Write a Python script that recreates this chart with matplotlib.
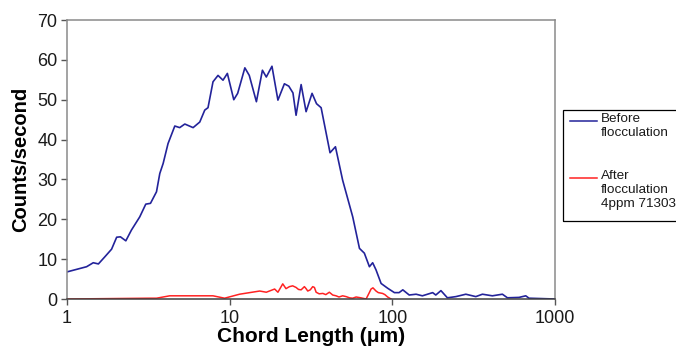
import matplotlib.pyplot as plt
from matplotlib.lines import Line2D
from matplotlib.patches import Rectangle

plt.rcParams['font.family'] = ['Liberation Sans', 'DejaVu Sans']

# Chord length distribution before flocculation
before_um = [1.0, 1.32, 1.45, 1.56, 1.71, 1.88, 2.02, 2.13, 2.30, 2.49, 2.80, 3.05,
             3.26, 3.55, 3.72, 3.90, 4.18, 4.60, 4.93, 5.30, 5.96, 6.55, 7.03, 7.36,
             7.90, 8.48, 9.10, 9.68, 10.6, 11.2, 12.4, 13.2, 14.6, 15.9, 16.8, 18.2,
             19.8, 21.7, 23.1, 24.5, 25.6, 27.5, 29.5, 32.1, 34.2, 36.5, 41.4, 44.7,
             49.5, 57.1, 62.8, 67.3, 72.3, 75.7, 79.4, 85.3, 93.6, 103, 110, 116,
             127, 140, 153, 177, 185, 199, 218, 246, 283, 326, 358, 412, 475, 510,
             601, 661, 692, 1000]
before_cps = [6.8, 8.1, 9.1, 8.8, 10.6, 12.5, 15.5, 15.6, 14.6, 17.3, 20.6, 23.8,
              24.0, 26.9, 31.5, 34.0, 39.0, 43.4, 43.0, 43.9, 43.0, 44.4, 47.4, 48.0,
              54.5, 56.1, 54.9, 56.6, 50.0, 51.6, 58.0, 56.1, 49.5, 57.4, 55.7, 58.4,
              49.9, 54.0, 53.4, 51.7, 46.1, 53.8, 47.0, 51.6, 49.0, 48.0, 36.7, 38.2,
              29.8, 20.6, 12.7, 11.5, 8.1, 9.1, 7.3, 3.9, 2.7, 1.6, 1.6, 2.3,
              1.0, 1.2, 0.8, 1.6, 1.0, 2.1, 0.3, 0.6, 1.2, 0.6, 1.2, 0.8, 1.2, 0.3,
              0.4, 0.8, 0.2, 0.0]

# After flocculation, 4 ppm 71303
after_um = [1.0, 3.23, 3.55, 4.28, 7.90, 9.31, 11.5, 15.3, 16.8, 18.9, 19.8, 21.2,
            22.2, 23.3, 24.4, 25.6, 26.5, 27.5, 28.8, 29.5, 30.2, 31.3, 32.4, 33.2,
            34.0, 35.5, 37.4, 39.0, 41.0, 43.0, 45.1, 47.0, 49.5, 52.0, 54.5, 57.0,
            59.9, 64.0, 69.0, 72.0, 74.0, 76.0, 79.4, 82.0, 87.1, 90.0, 93.6, 98.2]
after_cps = [0.0, 0.2, 0.2, 0.8, 0.8, 0.2, 1.2, 2.0, 1.7, 2.5, 1.7, 3.8,
             2.6, 3.1, 3.3, 2.9, 2.4, 2.3, 3.1, 2.6, 2.0, 2.3, 3.1, 2.9,
             1.7, 1.3, 1.4, 1.1, 1.7, 1.0, 0.8, 0.5, 0.8, 0.6, 0.3, 0.2,
             0.5, 0.3, 0.0, 1.5, 2.5, 2.8, 2.0, 1.6, 1.4, 1.1, 0.5, 0.0]

blue = '#23239a'
red = '#ff2222'

fig = plt.figure(figsize=(6.76, 3.48), dpi=100)
ax = fig.add_axes([0.0991, 0.1408, 0.7219, 0.8017])

ax.plot(before_um, before_cps, color=blue, lw=1.2, solid_joinstyle='round')
ax.plot(after_um, after_cps, color=red, lw=1.1)

ax.set_xscale('log')
ax.set_xlim(1, 1000)
ax.set_ylim(0, 70)
ax.set_xticks([1, 10, 100, 1000])
ax.set_xticklabels(['1', '10', '100', '1000'])
ax.minorticks_off()
ax.set_yticks(range(0, 71, 10))

for side in ['top', 'right', 'left']:
    ax.spines[side].set_color('#8a8a8a')
    ax.spines[side].set_linewidth(1.1)
ax.spines['bottom'].set_color('#404040')
ax.spines['bottom'].set_linewidth(1.1)
ax.tick_params(axis='both', labelsize=13, colors='#555555', labelcolor='#1a1a1a',
               length=4, width=1)
ax.tick_params(axis='y', pad=3)
ax.tick_params(axis='x', pad=4)

ax.set_ylabel('Counts/second', fontsize=14.5, fontweight='bold', labelpad=5)
ax.set_xlabel('Chord Length (μm)', fontsize=15, fontweight='bold', labelpad=0)

# Legend box, drawn in figure pixels (right side runs past the edge)
W, H = 676.0, 348.0
def fx(px):
    return px / W
def fy(py):
    return 1 - py / H

fig.patches.append(Rectangle((fx(563), fy(221)), fx(680) - fx(563), fy(110) - fy(221),
                             transform=fig.transFigure, fill=False, edgecolor='black',
                             lw=0.9))
fig.lines.append(Line2D([fx(570), fx(597)], [fy(121), fy(121)], color=blue, lw=1.1,
                        transform=fig.transFigure))
fig.lines.append(Line2D([fx(570), fx(597)], [fy(178), fy(178)], color=red, lw=1.1,
                        transform=fig.transFigure))
fig.text(fx(601), fy(113), 'Before\nflocculation', fontsize=9.7, va='top', ha='left',
         color='#1a1a1a', linespacing=1.2)
fig.text(fx(601), fy(170), 'After\nflocculation\n4ppm 71303', fontsize=9.7, va='top',
         ha='left', color='#1a1a1a', linespacing=1.2)

fig.savefig('out.png', dpi=100)
